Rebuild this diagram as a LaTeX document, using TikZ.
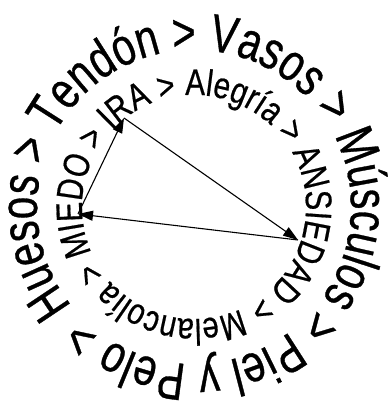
\documentclass[tikz,border=0pt]{standalone}
\usepackage{fontspec}
\newfontfamily\ringfont[FakeStretch=0.765,FakeBold=0.6]{Liberation Sans}
\newfontfamily\innerfont[FakeStretch=0.8,FakeBold=0.5]{Liberation Sans}
\usetikzlibrary{decorations.text,arrows.meta}
\begin{document}
\begin{tikzpicture}[x=1pt,y=1pt,
  link/.style={line width=1.1pt,-{Triangle[length=15pt,width=10pt]}}]
\useasboundingbox (0,0) rectangle (387,403);
\coordinate (c) at (194,196);
% outer ring
\path[shift={(c)},decorate,decoration={text along path,
  text={|\ringfont\fontsize{53}{60}\selectfont|Huesos > Tendón > Vasos > Músculos > Piel y Pelo >}}]
  (219:157) arc[start angle=219,end angle=-141,radius=157];
% inner ring
\path[shift={(c)},decorate,decoration={text along path,
  text={|\innerfont\fontsize{37}{42}\selectfont|IRA > Alegría > ANSIEDAD > Melancolía > MIEDO >}}]
  (137:112) arc[start angle=137,end angle=-223,radius=112];
% arrows
\coordinate (ira) at (124,285);
\coordinate (ans) at (298,163);
\coordinate (mie) at (78,189);
\draw[link] (ira) -- (ans);
\draw[link] (ans) -- (mie);
\draw[link] (mie) -- (ira);
\end{tikzpicture}
\end{document}
